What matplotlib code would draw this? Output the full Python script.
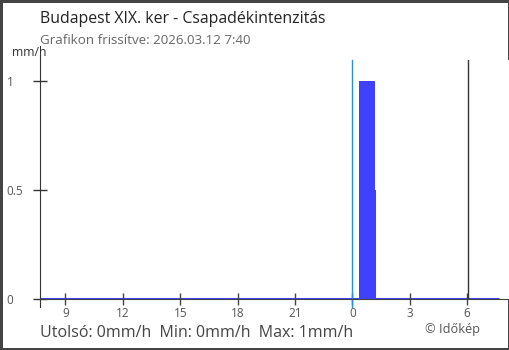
import matplotlib.pyplot as plt

# hours counted from midnight of the first day (24 = next midnight)
start_hour, end_hour = 7 + 40 / 60, 31 + 40 / 60
line_hours = [start_hour, end_hour]
line_values = [0, 0]

bar_hours = [24 + 20 / 60, 24 + 30 / 60, 24 + 40 / 60, 24 + 50 / 60, 25.0]
bar_values = [1, 1, 1, 1, 1]
half_hour_start = [24 + 20 / 60]
half_values = [0.5]

midnight = 24
now_hour = 30.05

tick_hours = [9, 12, 15, 18, 21, 24, 27, 30]
tick_labels = ['9', '12', '15', '18', '21', '0', '3', '6']
ytick_values = [0, 0.5, 1]
ytick_labels = ['0', '0.5', '1']

plt.rcParams['font.family'] = ['Open Sans', 'DejaVu Sans']

fig = plt.figure(figsize=(5.1, 3.5), dpi=100)
fig.patch.set_edgecolor('#444444')
fig.patch.set_linewidth(2.5)
ax = fig.add_axes([40 / 510, 51 / 350, 470 / 510, 239 / 350])

ax.bar(half_hour_start, half_values, width=0.9, align='edge', color='#4040ff', zorder=2)
ax.bar(bar_hours, bar_values, width=1 / 6, align='edge', color='#4040ff', zorder=3)
ax.plot(line_hours, line_values, color='#4040ff', lw=2.2, zorder=1, solid_capstyle='butt')

ax.axvline(midnight, ymin=-0.035, ymax=1, color='#2391e0', lw=1, clip_on=False, zorder=4)
ax.axvline(now_hour, color='#333333', lw=1, zorder=4)

ax.set_xlim(start_hour, end_hour + 0.58)
ax.set_ylim(0, 1.096)

for side in ['top', 'right']:
    ax.spines[side].set_visible(False)
ax.spines['left'].set_color('#333333')
ax.spines['bottom'].set_color('#444444')
ax.spines['left'].set_bounds(-0.035, 1.12)
ax.spines['bottom'].set_zorder(5)

ax.set_xticks(tick_hours)
ax.set_xticklabels(tick_labels)
ax.set_yticks(ytick_values)
ax.set_yticklabels(ytick_labels)
ax.tick_params(axis='x', direction='inout', length=9, width=1, color='#444444',
               labelsize=8.5, labelcolor='#555555', pad=1.5)
ax.tick_params(axis='y', direction='inout', length=10, width=1, color='#333333',
               labelsize=8.5, labelcolor='#555555', pad=19)
for lbl in ax.get_yticklabels():
    lbl.set_horizontalalignment('left')

fig.text(40 / 510, 1 - 19 / 350, 'Budapest XIX. ker - Csapadékintenzitás', fontsize=11.4,
         color='#222222', va='center')
fig.text(40 / 510, 1 - 41 / 350, 'Grafikon frissítve: 2026.03.12 7:40', fontsize=9.6,
         color='#666666', va='center')
fig.text(12 / 510, 1 - 52 / 350, 'mm/h', fontsize=8.8, color='#333333', va='center')
fig.text(40 / 510, 1 - 333 / 350, 'Utolsó: 0mm/h  Min: 0mm/h  Max: 1mm/h', fontsize=11.5,
         color='#444444', va='center')
fig.text(425 / 510, 1 - 330 / 350, '© Időkép', fontsize=9.2, color='#555555', va='center')

fig.savefig('out.png', dpi=100, edgecolor=fig.get_edgecolor())
